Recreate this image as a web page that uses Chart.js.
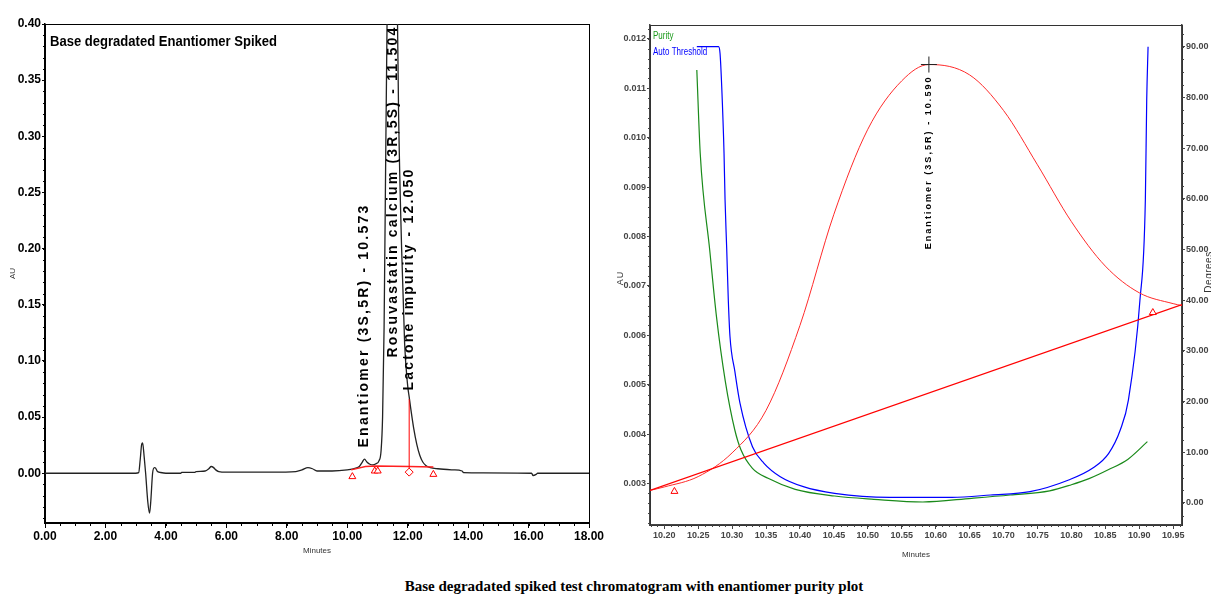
<!DOCTYPE html>
<html>
<head>
<meta charset="utf-8">
<script src="https://cdn.jsdelivr.net/npm/chart.js@4.4.0/dist/chart.umd.min.js"></script>
<style>
  body { margin: 0; background: #fff; width: 1211px; height: 597px; overflow: hidden; position: relative; }
  #left { position: absolute; left: 0; top: 0; }
  #right { position: absolute; left: 600px; top: 0; }
  #caption { position: absolute; left: 0; top: 578px; width: 1268px; text-align: center;
             font: bold 15px 'Liberation Serif', serif; color: #000; }
</style>
</head>
<body>
<canvas id="left" width="620" height="560"></canvas>
<canvas id="right" width="611" height="560"></canvas>
<div id="caption">Base degradated spiked test chromatogram with enantiomer purity plot</div>
<script>
// ---- left: chromatogram ----
const chromTime = [0, 3.0, 3.1, 3.15, 3.2, 3.23, 3.28, 3.33, 3.4, 3.46, 3.5, 3.56, 3.62, 3.66, 3.72, 3.8, 4.0,
  4.5, 4.52, 4.95, 5.0, 5.3, 5.42, 5.5, 5.58, 5.65, 5.75, 6.0, 7.5, 8.3, 8.5, 8.7, 8.85, 9.0, 9.5,
  10.0, 10.2, 10.4, 10.5, 10.573, 10.65, 10.75, 10.85, 10.95, 11.05, 11.12, 11.17, 11.22, 11.28, 11.34,
  11.504, 11.62, 11.7, 11.8, 11.9, 12.0, 12.05, 12.1, 12.2, 12.3, 12.4, 12.5, 12.6, 12.75, 13.0, 13.5,
  13.8, 13.85, 14.5, 16.1, 16.15, 16.25, 16.3, 18.0];
const chromAU = [0, 0, 0.0005, 0.012, 0.026, 0.027, 0.015, 0, -0.025, -0.0355, -0.025, 0, 0.005, 0.0045, 0.0015, 0.0008, 0,
  0, 0.0008, 0.0008, 0.0015, 0.002, 0.004, 0.006, 0.005, 0.003, 0.0015, 0.001, 0.001, 0.0015, 0.003, 0.005, 0.004, 0.002, 0.002,
  0.003, 0.004, 0.006, 0.010, 0.0125, 0.010, 0.008, 0.0075, 0.0085, 0.011, 0.02, 0.05, 0.13, 0.30, 0.46,
  0.95, 0.50, 0.32, 0.20, 0.115, 0.078, 0.068, 0.058, 0.040, 0.026, 0.016, 0.010, 0.007, 0.005, 0.004, 0.003,
  0.002, 0.0005, 0.0003, 0, -0.002, -0.001, 0, 0];

const baseTime = [10.13, 10.6, 10.95, 12.05, 12.85];
const baseAU = [0.003, 0.006, 0.0065, 0.006, 0.0055];
const triTime = [10.17, 10.91, 11.01, 12.85];
const triAU = [-0.003, 0.002, 0.002, -0.001];
const diamondTime = [12.05];
const diamondAU = [0.001];
const dropTime = [12.05, 12.05];
const dropAU = [0.001, 0.066];

const leftPeakNames = ['Enantiomer (3S,5R) - 10.573', 'Rosuvastatin calcium (3R,5S) - 11.504', 'Lactone impurity - 12.050'];
const leftPeakTimes = [10.573, 11.504, 12.05];
const leftLabelAU = [0.023, 0.103, 0.0736];

const leftXTicks = [0, 2, 4, 6, 8, 10, 12, 14, 16, 18];
const leftYTicks = [0, 0.05, 0.10, 0.15, 0.20, 0.25, 0.30, 0.35, 0.40];

// ---- right: purity plot ----
const peakTime = [10.179, 10.2, 10.25, 10.3, 10.35, 10.4, 10.45, 10.5, 10.55, 10.59, 10.65, 10.7, 10.75, 10.8, 10.85, 10.9, 10.95, 10.963];
const peakAU = [0.00286, 0.00293, 0.00314, 0.00362, 0.00448, 0.0062, 0.00845, 0.01017, 0.01115, 0.01148, 0.01127, 0.01055, 0.00945, 0.00830, 0.00740, 0.00686, 0.00664, 0.0066];
const rBaseTime = [10.179, 10.963];
const rBaseAU = [0.00286, 0.00662];
const rTriTime = [10.215, 10.92];
const rTriAU = [0.00284, 0.00646];
const apexTime = [10.59];
const apexAU = [0.01148];

const purityTime = [10.248, 10.253, 10.267, 10.277, 10.29, 10.304, 10.313, 10.33, 10.353, 10.393, 10.451, 10.509, 10.581,
  10.653, 10.71, 10.768, 10.8, 10.826, 10.855, 10.883, 10.912];
const purityDeg = [85.4, 69.0, 49.9, 36.7, 24.0, 14.4, 10.5, 6.84, 4.87, 2.7, 1.38, 0.73, 0.2,
  0.93, 1.58, 2.4, 3.6, 4.8, 6.6, 8.6, 12.1];
const thrTime = [10.248, 10.28, 10.2822, 10.2847, 10.2881, 10.2896, 10.2921, 10.2944, 10.2969, 10.304, 10.3116, 10.33,
  10.347, 10.371, 10.405, 10.451, 10.532, 10.624, 10.681, 10.739, 10.796, 10.831, 10.855, 10.872, 10.884, 10.901,
  10.909, 10.911, 10.913];
const thrDeg = [90, 90, 88.7, 82.1, 69.0, 59.8, 49.9, 40.0, 32.8, 26.0, 19.7, 11.1,
  7.83, 5.19, 3.22, 1.91, 1.12, 1.12, 1.58, 2.23, 4.54, 6.84, 9.8, 14.4, 20.3, 40,
  59.8, 79.5, 90];

const rightPeakName = 'Enantiomer (3S,5R) - 10.590';
const rightLabelAU = 0.00774;

const rightXTicks = [10.20, 10.25, 10.30, 10.35, 10.40, 10.45, 10.50, 10.55, 10.60, 10.65, 10.70, 10.75, 10.80, 10.85, 10.90, 10.95];
const rightAUTicks = [0.003, 0.004, 0.005, 0.006, 0.007, 0.008, 0.009, 0.010, 0.011, 0.012];
const rightDegTicks = [0, 10, 20, 30, 40, 50, 60, 70, 80, 90];

const SANS = "'Liberation Sans', Arial, sans-serif";

const pts = (xs, ys) => xs.map((x, i) => ({ x: x, y: ys[i] }));

// small ticks between the labelled ones
const minorTicks = {
  id: 'minorTicks',
  afterDraw(chart, args, opts) {
    const ctx = chart.ctx;
    ctx.save();
    ctx.strokeStyle = opts.color;
    ctx.lineWidth = 1;
    opts.list.forEach(m => {
      const s = chart.scales[m.axis];
      ctx.beginPath();
      const n = Math.round((m.to - m.from) / m.step);
      for (let i = 0; i <= n; i++) {
        const p = Math.round(s.getPixelForValue(m.from + i * m.step)) + 0.5;
        if (s.isHorizontal()) { ctx.moveTo(p, s.top); ctx.lineTo(p, s.top + m.len); }
        else if (s.position === 'left') { ctx.moveTo(s.right, p); ctx.lineTo(s.right - m.len, p); }
        else { ctx.moveTo(s.left, p); ctx.lineTo(s.left + m.len, p); }
      }
      ctx.stroke();
    });
    ctx.restore();
  }
};

const frame = {
  id: 'frame',
  beforeDatasetsDraw(chart, args, opts) {
    const a = chart.chartArea, ctx = chart.ctx;
    ctx.save();
    ctx.strokeStyle = opts.color;
    ctx.lineWidth = opts.width;
    ctx.strokeRect(Math.round(a.left) + 0.5, Math.round(a.top) + 0.5, Math.round(a.width), Math.round(a.height));
    ctx.restore();
  }
};

// text helper: rot = -90 for vertical labels, sx squeezes the glyphs sideways
function drawText(ctx, text, x, y, o) {
  ctx.save();
  ctx.translate(x, y);
  if (o.rot) ctx.rotate(o.rot * Math.PI / 180);
  ctx.scale(o.sx || 1, 1);
  ctx.font = o.font;
  ctx.fillStyle = o.color || '#000';
  ctx.letterSpacing = o.spacing || '0px';
  ctx.textAlign = o.align || 'left';
  ctx.textBaseline = 'middle';
  ctx.fillText(text, 0, 0);
  ctx.restore();
}

const leftText = {
  id: 'leftText',
  afterDatasetsDraw(chart) {
    const ctx = chart.ctx, xs = chart.scales.x, ys = chart.scales.y;
    leftPeakNames.forEach((name, i) => {
      drawText(ctx, name, xs.getPixelForValue(leftPeakTimes[i]), ys.getPixelForValue(leftLabelAU[i]),
        { rot: -90, font: 'bold 14px ' + SANS, spacing: '2.2px' });
    });
    drawText(ctx, 'Base degradated Enantiomer Spiked', chart.chartArea.left + 5, chart.chartArea.top + 18,
      { font: 'bold 15px ' + SANS, sx: 0.87 });
  }
};

const rightText = {
  id: 'rightText',
  afterDatasetsDraw(chart) {
    const ctx = chart.ctx, xs = chart.scales.x, ys = chart.scales.y;
    const a = chart.chartArea;
    drawText(ctx, rightPeakName, xs.getPixelForValue(apexTime[0]), ys.getPixelForValue(rightLabelAU),
      { rot: -90, font: 'bold 9px ' + SANS, spacing: '2.05px' });
    drawText(ctx, 'Purity', a.left + 3, a.top + 11, { font: '10px ' + SANS, color: '#1a9a1a', sx: 0.8 });
    drawText(ctx, 'Auto Threshold', a.left + 3, a.top + 27, { font: '10px ' + SANS, color: '#0000ff', sx: 0.8 });
    drawText(ctx, 'AU', 21, 278, { rot: -90, font: '9px ' + SANS, color: '#333', spacing: '1px', align: 'center' });
    drawText(ctx, 'Degrees', 609, 272, { rot: -90, font: '10px ' + SANS, color: '#333', spacing: '0.5px', align: 'center' });
  }
};

const axisBase = (min, max, ticksArr, digits, font, tickLen, color) => ({
  type: 'linear', min: min, max: max,
  afterBuildTicks: s => { s.ticks = ticksArr.map(v => ({ value: v })); },
  ticks: { callback: v => v.toFixed(digits), font: font, color: color, padding: 1, maxRotation: 0, autoSkip: false },
  grid: { drawOnChartArea: false, drawTicks: true, tickLength: tickLen, color: color },
  border: { color: color, width: 1.5 }
});

// left chromatogram
const lx = axisBase(0, 18, leftXTicks, 2, { family: SANS, size: 12, weight: 'bold' }, 5, '#000');
lx.afterFit = s => { s.height = 37; };
lx.title = { display: true, text: 'Minutes', font: { family: SANS, size: 8 }, color: '#333', padding: { top: 0, bottom: 4 } };
const ly = axisBase(-0.0443, 0.40, leftYTicks, 2, { family: SANS, size: 12, weight: 'bold' }, 3, '#000');
ly.afterFit = s => { s.width = 45; };
ly.title = { display: true, text: 'AU', font: { family: SANS, size: 8 }, color: '#333', padding: { top: 8, bottom: 6 } };

new Chart(document.getElementById('left'), {
  type: 'line',
  data: {
    datasets: [
      { data: pts(triTime, triAU), showLine: false, pointStyle: 'triangle', pointRadius: 4, borderColor: '#ff0000', backgroundColor: '#fff', borderWidth: 1 },
      { data: pts(diamondTime, diamondAU), showLine: false, pointStyle: 'rectRot', pointRadius: 4, borderColor: '#ff0000', backgroundColor: '#fff', borderWidth: 1 },
      { data: pts(dropTime, dropAU), borderColor: '#ff0000', borderWidth: 1, pointRadius: 0 },
      { data: pts(baseTime, baseAU), borderColor: '#ff2020', borderWidth: 1.5, pointRadius: 0 },
      { data: pts(chromTime, chromAU), borderColor: '#222', borderWidth: 1.3, pointRadius: 0, cubicInterpolationMode: 'monotone' }
    ]
  },
  options: {
    responsive: false, animation: false,
    layout: { padding: { top: 24, right: 31, left: 0, bottom: 0 } },
    plugins: {
      legend: { display: false }, tooltip: { enabled: false },
      frame: { color: '#000', width: 1 },
      minorTicks: { color: '#000', list: [
        { axis: 'x', from: 0, to: 18, step: 0.5, len: 3 },
        { axis: 'y', from: -0.04, to: 0.40, step: 0.01, len: 2 }
      ] }
    },
    scales: { x: lx, y: ly }
  },
  plugins: [frame, minorTicks, leftText]
});

// right purity plot
const GREY = '#444';
const rx = axisBase(10.179, 10.963, rightXTicks, 2, { family: SANS, size: 9, weight: 'bold' }, 4, GREY);
rx.afterFit = s => { s.height = 35; };
rx.title = { display: true, text: 'Minutes', font: { family: SANS, size: 8 }, color: '#333', padding: { top: 0, bottom: 0 } };
const ry = axisBase(0.00216, 0.01228, rightAUTicks, 3, { family: SANS, size: 9, weight: 'bold' }, 3, GREY);
ry.afterFit = s => { s.width = 50; };
const rd = axisBase(-4.34, 94.28, rightDegTicks, 2, { family: SANS, size: 9, weight: 'bold' }, 3, GREY);
rd.position = 'right';
rd.afterFit = s => { s.width = 29; };

new Chart(document.getElementById('right'), {
  type: 'line',
  data: {
    datasets: [
      { data: pts(apexTime, apexAU), showLine: false, pointStyle: 'cross', pointRadius: 8, borderColor: '#222', borderWidth: 1 },
      { data: pts(rTriTime, rTriAU), showLine: false, pointStyle: 'triangle', pointRadius: 4, borderColor: '#ff0000', backgroundColor: '#fff', borderWidth: 1 },
      { data: pts(rBaseTime, rBaseAU), borderColor: '#ff0000', borderWidth: 1.3, pointRadius: 0 },
      { data: pts(peakTime, peakAU), borderColor: '#ff2a2a', borderWidth: 1, pointRadius: 0, cubicInterpolationMode: 'monotone' },
      { data: pts(thrTime, thrDeg), yAxisID: 'y2', borderColor: '#0000ff', borderWidth: 1.2, pointRadius: 0, cubicInterpolationMode: 'monotone' },
      { data: pts(purityTime, purityDeg), yAxisID: 'y2', borderColor: '#1a8a1a', borderWidth: 1.2, pointRadius: 0, cubicInterpolationMode: 'monotone' }
    ]
  },
  options: {
    responsive: false, animation: false,
    layout: { padding: { top: 25, right: 0, left: 0, bottom: 0 } },
    plugins: {
      legend: { display: false }, tooltip: { enabled: false },
      frame: { color: '#333', width: 1 },
      minorTicks: { color: GREY, list: [
        { axis: 'x', from: 10.18, to: 10.96, step: 0.01, len: 2 },
        { axis: 'y', from: 0.0022, to: 0.0122, step: 0.0002, len: 2 },
        { axis: 'y2', from: -2.5, to: 92.5, step: 2.5, len: 2 }
      ] }
    },
    scales: { x: rx, y: ry, y2: rd }
  },
  plugins: [frame, minorTicks, rightText]
});
</script>
</body>
</html>
